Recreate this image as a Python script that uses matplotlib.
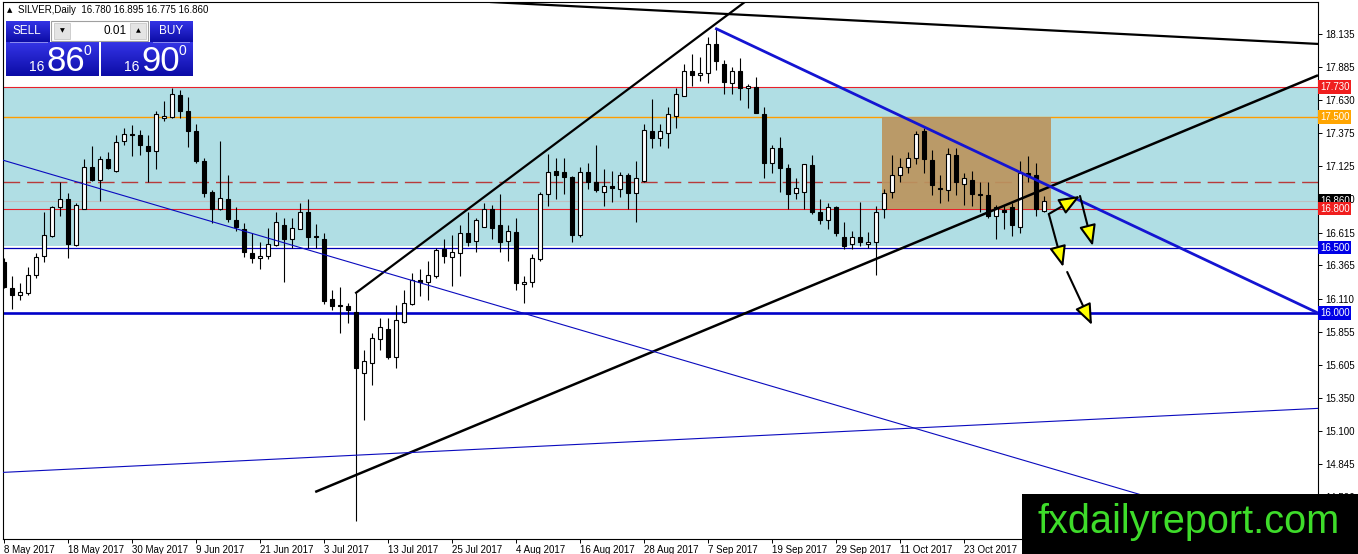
import matplotlib
matplotlib.use("Agg")
import matplotlib.pyplot as plt
import numpy as np
from matplotlib.colors import LinearSegmentedColormap
from matplotlib.patches import Rectangle
from matplotlib.transforms import blended_transform_factory

W, H = 1358, 554
plt.rcParams["font.family"] = ["Liberation Sans", "DejaVu Sans"]

# daily OHLC, 8 May 2017 .. 6 Nov 2017 (one entry per weekday bar)
OPEN = [16.39, 16.19, 16.14, 16.15, 16.29, 16.44, 16.59, 16.81, 16.87, 16.52,
        16.80, 17.12, 17.02, 17.18, 17.09, 17.32, 17.37, 17.36, 17.28, 17.24,
        17.49, 17.50, 17.67, 17.55, 17.39, 17.16, 16.93, 16.80, 16.87, 16.71,
        16.64, 16.46, 16.42, 16.44, 16.52, 16.67, 16.57, 16.64, 16.77, 16.59,
        16.57, 16.11, 16.06, 16.05, 16.01, 15.54, 15.62, 15.80, 15.88, 15.66,
        15.93, 16.07, 16.25, 16.24, 16.28, 16.49, 16.43, 16.46, 16.61, 16.55,
        16.66, 16.80, 16.67, 16.55, 16.62, 16.22, 16.24, 16.41, 16.91, 17.09,
        17.08, 17.04, 16.60, 17.08, 17.00, 16.93, 16.97, 16.95, 17.06, 16.92,
        17.01, 17.39, 17.34, 17.38, 17.51, 17.66, 17.85, 17.82, 17.84, 18.06,
        17.91, 17.76, 17.85, 17.72, 17.73, 17.52, 17.15, 17.26, 17.11, 16.92,
        16.93, 17.13, 16.77, 16.71, 16.81, 16.58, 16.53, 16.58, 16.53, 16.54,
        16.80, 16.93, 17.06, 17.12, 17.19, 17.39, 17.17, 16.96, 16.94, 17.21,
        16.99, 17.02, 16.91, 16.90, 16.74, 16.79, 16.81, 16.66, 17.07, 17.06,
        16.780]
HIGH = [16.42, 16.28, 16.23, 16.35, 16.46, 16.77, 16.82, 17.00, 16.92, 16.84,
        17.18, 17.28, 17.20, 17.23, 17.36, 17.42, 17.44, 17.40, 17.36, 17.55,
        17.62, 17.72, 17.71, 17.65, 17.45, 17.19, 16.94, 17.32, 17.06, 16.81,
        16.69, 16.61, 16.54, 16.65, 16.77, 16.73, 16.73, 16.84, 16.87, 16.68,
        16.61, 16.18, 16.20, 16.08, 16.15, 15.72, 15.85, 15.96, 15.96, 16.06,
        16.18, 16.31, 16.34, 16.40, 16.50, 16.57, 16.60, 16.67, 16.77, 16.73,
        16.84, 16.83, 16.91, 16.67, 16.73, 16.28, 16.45, 16.93, 17.22, 17.19,
        17.19, 17.05, 17.12, 17.15, 17.29, 17.10, 17.09, 17.08, 17.07, 17.16,
        17.45, 17.64, 17.45, 17.58, 17.72, 17.91, 17.98, 17.96, 18.11, 18.18,
        17.94, 17.88, 17.95, 17.75, 17.81, 17.58, 17.29, 17.35, 17.14, 17.03,
        17.14, 17.21, 16.87, 16.84, 16.82, 16.70, 16.63, 16.85, 16.62, 16.82,
        16.95, 17.21, 17.19, 17.23, 17.39, 17.42, 17.25, 17.06, 17.26, 17.26,
        17.07, 17.09, 17.00, 17.00, 16.83, 16.83, 16.84, 17.16, 17.20, 17.15,
        16.895]
LOW = [16.19, 16.03, 16.10, 16.14, 16.27, 16.39, 16.58, 16.74, 16.42, 16.51,
       16.80, 17.01, 16.86, 17.10, 17.08, 17.29, 17.20, 17.21, 17.00, 17.10,
       17.47, 17.49, 17.49, 17.27, 17.15, 16.89, 16.69, 16.79, 16.70, 16.63,
       16.43, 16.38, 16.34, 16.41, 16.51, 16.24, 16.50, 16.64, 16.50, 16.50,
       16.07, 16.02, 15.85, 15.92, 14.41, 15.18, 15.45, 15.72, 15.65, 15.58,
       15.92, 16.06, 16.13, 16.10, 16.27, 16.38, 16.21, 16.28, 16.51, 16.47,
       16.66, 16.57, 16.47, 16.40, 16.18, 16.08, 16.20, 16.40, 16.82, 16.87,
       16.91, 16.54, 16.58, 16.95, 16.93, 16.82, 16.85, 16.89, 16.80, 16.70,
       17.00, 17.26, 17.28, 17.26, 17.42, 17.66, 17.74, 17.78, 17.76, 17.86,
       17.68, 17.68, 17.63, 17.57, 17.53, 17.03, 17.07, 16.93, 16.80, 16.87,
       16.80, 16.76, 16.68, 16.64, 16.59, 16.49, 16.49, 16.51, 16.50, 16.29,
       16.73, 16.88, 17.00, 17.07, 17.14, 17.07, 16.90, 16.84, 16.86, 16.90,
       16.83, 16.82, 16.77, 16.73, 16.57, 16.64, 16.59, 16.61, 17.00, 16.74,
       16.775]
CLOSE = [16.20, 16.14, 16.16, 16.29, 16.43, 16.60, 16.81, 16.87, 16.53, 16.83,
         17.12, 17.02, 17.18, 17.11, 17.31, 17.37, 17.36, 17.29, 17.24, 17.52,
         17.51, 17.68, 17.55, 17.39, 17.16, 16.92, 16.80, 16.88, 16.72, 16.66,
         16.47, 16.42, 16.44, 16.53, 16.70, 16.57, 16.65, 16.77, 16.58, 16.58,
         16.09, 16.05, 16.05, 16.02, 15.58, 15.63, 15.81, 15.89, 15.66, 15.95,
         16.08, 16.25, 16.24, 16.29, 16.48, 16.44, 16.47, 16.61, 16.54, 16.71,
         16.80, 16.65, 16.54, 16.63, 16.23, 16.24, 16.42, 16.91, 17.08, 17.06,
         17.04, 16.60, 17.08, 17.00, 16.94, 16.97, 16.96, 17.06, 16.92, 17.03,
         17.40, 17.34, 17.39, 17.52, 17.68, 17.85, 17.82, 17.84, 18.06, 17.93,
         17.77, 17.85, 17.72, 17.74, 17.53, 17.15, 17.26, 17.11, 16.91, 16.96,
         17.14, 16.77, 16.71, 16.81, 16.61, 16.51, 16.58, 16.54, 16.54, 16.77,
         16.92, 17.06, 17.12, 17.19, 17.37, 17.18, 16.98, 16.95, 17.22, 17.00,
         17.03, 16.91, 16.90, 16.74, 16.81, 16.77, 16.67, 17.07, 17.05, 16.80,
         16.860]

DATE_LABELS = ["8 May 2017", "18 May 2017", "30 May 2017", "9 Jun 2017",
               "21 Jun 2017", "3 Jul 2017", "13 Jul 2017", "25 Jul 2017",
               "4 Aug 2017", "16 Aug 2017", "28 Aug 2017", "7 Sep 2017",
               "19 Sep 2017", "29 Sep 2017", "11 Oct 2017", "23 Oct 2017",
               "2 Nov 2017"]
LABEL_STEP = 8

PRICE_TICKS = [18.135, 17.885, 17.630, 17.375, 17.125, 16.870, 16.615, 16.365,
               16.110, 15.855, 15.605, 15.350, 15.100, 14.845, 14.590]

# horizontal levels (price, colour, width)
ZONE = (16.51, 17.73)
LEVELS = [(17.73, "#E8202A", 0.8), (17.50, "#FF9C00", 1.0),
          (16.80, "#E8202A", 0.8), (16.50, "#0000B4", 0.9),
          (16.00, "#0000C8", 1.9)]
DASHED_LEVEL = 17.00
BID = 16.86
PRICE_TAGS = [(16.860, "#000000"), (17.730, "#F01E1E"), (17.500, "#FFA500"),
              (16.800, "#F01E1E"), (16.500, "#0000E6"), (16.000, "#0000E6")]

# drawn objects: (bar, price) anchor pairs
TRENDLINES = [
    ([60.75, 164.25], [18.381, 18.06], "black", 1.6),
    ([43.9, 92.6], [16.15, 18.381], "black", 1.6),
    ([38.9, 164.25], [14.63, 17.82], "black", 1.8),
    ([88.9, 164.25], [18.18, 16.00], "#1414D2", 2.0),
    ([-0.125, 164.25], [17.17, 14.21], "#0A0ABE", 0.8),
    ([-0.125, 164.25], [14.78, 15.27], "#0A0ABE", 0.8),
]
BOX = (109.8, 130.9, 16.80, 17.50)
ARROWS = [
    ((130.6, 16.758), (134.5, 16.896)),
    ((134.5, 16.896), (136.1, 16.513)),
    ((130.6, 16.758), (132.4, 16.352)),
    ((132.9, 16.314), (136.0, 15.908)),
]

XMIN, XMAX = -0.125, 164.25
YMIN, YMAX = 14.27, 18.381


def px(x0, y0, x1, y1):
    return [x0 / W, 1 - y1 / H, (x1 - x0) / W, (y1 - y0) / H]


def draw_candles(ax):
    o, h, l, c = (np.array(v) for v in (OPEN, HIGH, LOW, CLOSE))
    x = np.arange(len(o))
    up = c >= o
    ax.vlines(x, l, h, color="black", lw=0.8, zorder=3)
    lo = np.minimum(o, c)
    hgt = np.abs(c - o)
    ax.bar(x[up], hgt[up], bottom=lo[up], width=0.62, color="white",
           edgecolor="black", lw=0.8, zorder=4)
    ax.bar(x[~up], hgt[~up], bottom=lo[~up], width=0.62, color="black",
           edgecolor="black", lw=0.8, zorder=4)


def main():
    fig = plt.figure(figsize=(W / 100, H / 100), dpi=100)
    fig.patch.set_facecolor("white")
    ax = fig.add_axes(px(3, 2, 1318, 539))
    ax.set_xlim(XMIN, XMAX)
    ax.set_ylim(YMIN, YMAX)

    ax.axhspan(*ZONE, color="#B0DEE4", lw=0, zorder=0.5)
    for price, col, lw in LEVELS:
        ax.axhline(price, color=col, lw=lw, zorder=1)
    ax.axhline(DASHED_LEVEL, color="#B83A3A", lw=1.0, dashes=(12, 5), zorder=1)
    ax.axhline(BID, color="#C0C0C0", lw=0.8, zorder=1)

    x0, x1, y0, y1 = BOX
    ax.add_patch(Rectangle((x0, y0), x1 - x0, y1 - y0, facecolor="#BB945E",
                           edgecolor="none", alpha=0.92, zorder=1.5))

    draw_candles(ax)

    for xs, ys, col, lw in TRENDLINES:
        ax.plot(xs, ys, color=col, lw=lw, zorder=5, solid_capstyle="butt")

    for (ax0, ay0), (ax1, ay1) in ARROWS:
        ax.annotate("", xy=(ax1, ay1), xytext=(ax0, ay0),
                    arrowprops=dict(arrowstyle="-|>,head_length=0.8,head_width=0.32",
                                    mutation_scale=16, fc="#FFFF00", ec="black",
                                    lw=1.5, shrinkA=0, shrinkB=0),
                    zorder=6)

    # axes / ticks in MT4 fashion
    for sp in ax.spines.values():
        sp.set_color("black")
        sp.set_linewidth(0.8)
    ax.yaxis.tick_right()
    ax.set_yticks(PRICE_TICKS)
    ax.set_yticklabels([f"{t:.3f}" for t in PRICE_TICKS])
    ax.tick_params(axis="y", direction="out", length=3, width=0.7, pad=2,
                   labelsize=7)
    ticks = [i * LABEL_STEP for i in range(len(DATE_LABELS))]
    ax.set_xticks(ticks)
    ax.set_xticklabels(DATE_LABELS, ha="left")
    ax.tick_params(axis="x", direction="out", length=3, width=0.7, pad=1,
                   labelsize=7)

    # price tags on the right scale
    tr = blended_transform_factory(ax.transAxes, ax.transData)
    for price, col in PRICE_TAGS:
        ax.text(1.0015, price, f"{price:.3f}", transform=tr, ha="left",
                va="center", fontsize=7, color="white", clip_on=False,
                bbox=dict(boxstyle="square,pad=0.18", fc=col, ec="none"),
                zorder=10)

    # overlay for the terminal widgets and watermark
    ov = fig.add_axes([0, 0, 1, 1], zorder=20)
    ov.set_xlim(0, W)
    ov.set_ylim(H, 0)
    ov.axis("off")
    ov.patch.set_alpha(0)

    ov.text(10, 10, "\u25b2", fontsize=5, ha="center", va="center",
            family=["DejaVu Sans"])
    ov.text(18, 10, "SILVER,Daily  16.780 16.895 16.775 16.860", fontsize=7,
            ha="left", va="center")

    grad = LinearSegmentedColormap.from_list("btn", ["#3434E6", "#0C0CA6"])
    g = np.linspace(0, 1, 64).reshape(-1, 1)
    for bx0, by0, bx1, by1 in [(6, 21, 50, 42), (150, 21, 193, 42),
                               (6, 42, 99, 76), (101, 42, 193, 76)]:
        ov.imshow(g, cmap=grad, extent=(bx0, bx1, by1, by0), aspect="auto",
                  origin="upper", zorder=1)
    ov.add_patch(Rectangle((51, 21), 97, 20, fc="white", ec="#A0A0A0", lw=0.8))
    ov.add_patch(Rectangle((54, 23), 16, 16, fc="#E4E4E4", ec="#C8C8C8", lw=0.6))
    ov.add_patch(Rectangle((130, 23), 16, 16, fc="#E4E4E4", ec="#C8C8C8", lw=0.6))
    ov.text(62, 31, "\u25bc", fontsize=4.5, ha="center", va="center",
            family=["DejaVu Sans"])
    ov.text(138, 31, "\u25b2", fontsize=4.5, ha="center", va="center",
            family=["DejaVu Sans"])
    ov.text(127, 31, "0.01", fontsize=8.5, ha="right", va="center")
    ov.text(27, 31, "SELL", fontsize=8.5, ha="center", va="center", color="white")
    ov.text(171, 31, "BUY", fontsize=8.5, ha="center", va="center", color="white")
    ov.plot([10, 47], [41.5, 41.5], color="#8C8CF0", lw=0.7)
    ov.plot([153, 189], [41.5, 41.5], color="#8C8CF0", lw=0.7)
    for sx, big in [(0, "86"), (95, "90")]:
        ov.text(37 + sx, 71, "16", fontsize=10, ha="center", va="baseline",
                color="white")
        ov.text(46 + sx, 71, big, fontsize=25, ha="left", va="baseline",
                color="white")
        ov.text(87 + sx, 55, "0", fontsize=10, ha="center", va="baseline",
                color="white")
    ov.set_xlim(0, W)
    ov.set_ylim(H, 0)

    ov.add_patch(Rectangle((1022, 494), W - 1022, H - 494, fc="black",
                           ec="none", zorder=5))
    ov.text(1038, 533, "fxdailyreport.com", fontsize=28.6, color="#3EDC2A",
            ha="left", va="baseline", family=["Liberation Sans"], zorder=6)

    fig.savefig("out.png", dpi=100, facecolor="white")


if __name__ == "__main__":
    main()
